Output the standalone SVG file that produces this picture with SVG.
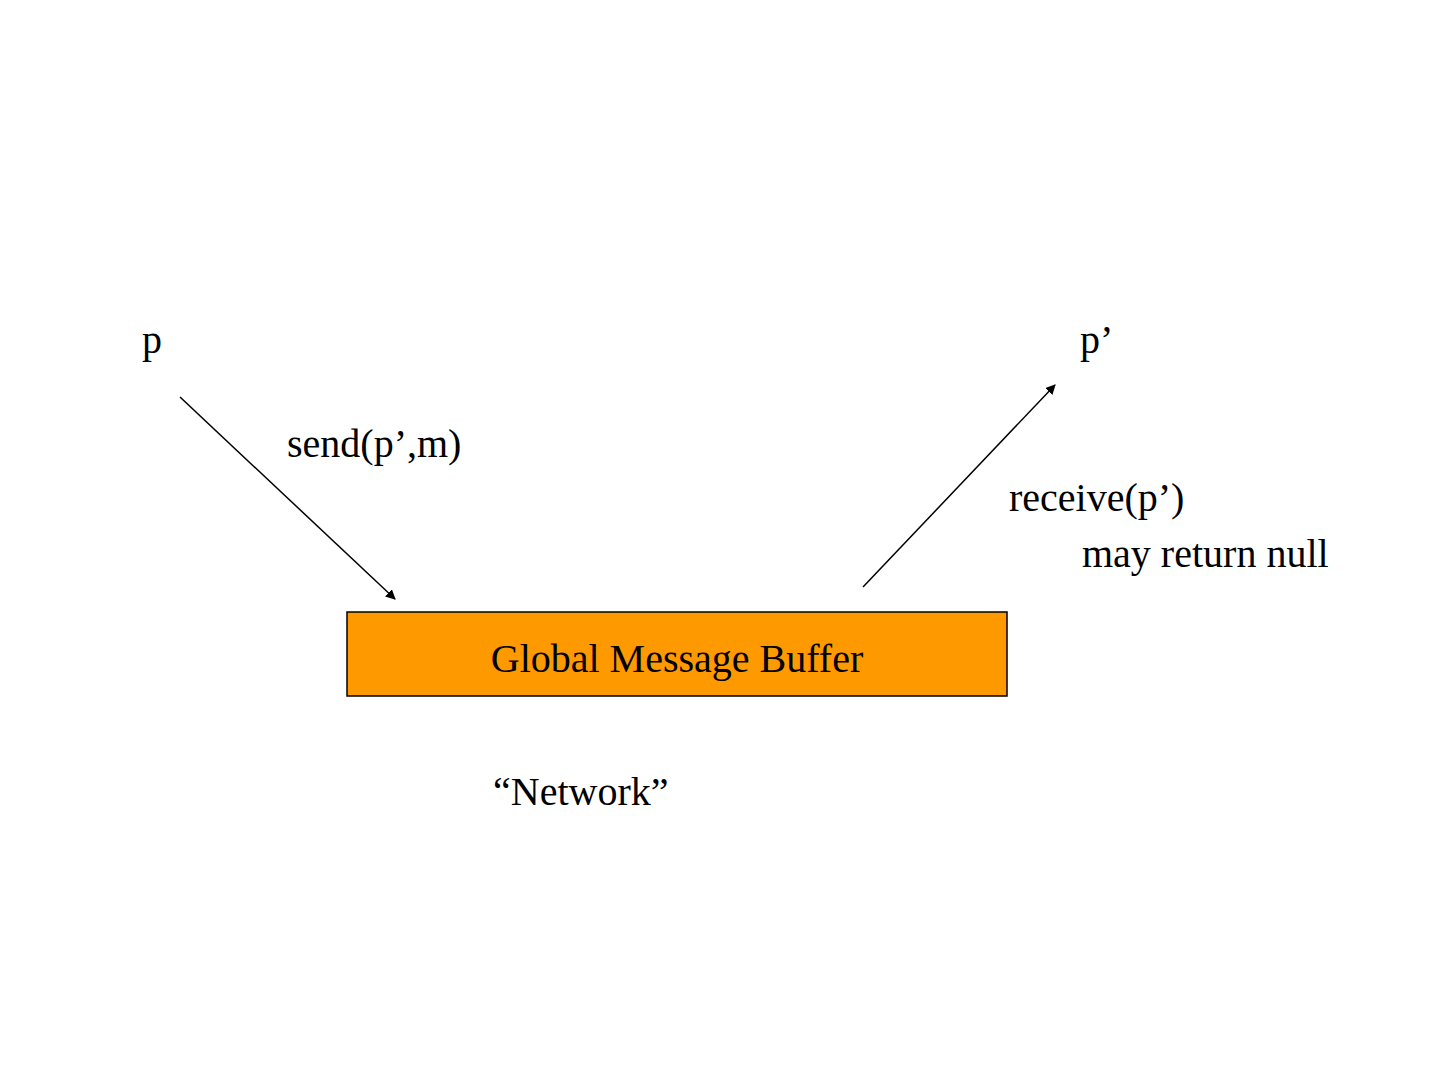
<svg xmlns="http://www.w3.org/2000/svg" width="1440" height="1080" viewBox="0 0 1440 1080">
<style>
text{font-family:"Liberation Serif",serif;font-size:40px;fill:#000}
.c{stroke:#000;stroke-width:1.5;fill:none;marker-end:url(#a)}
</style>
<defs><marker id="a" markerWidth="10" markerHeight="10" refX="9" refY="5" orient="auto" markerUnits="userSpaceOnUse"><path d="M0,0L10,5L0,10z" fill="#000"/></marker></defs>
<rect width="1440" height="1080" fill="#fff"/>
<g id="p"><text x="142" y="353">p</text></g>
<g id="pp"><text x="1080" y="353">p’</text></g>
<g id="buffer"><rect x="347" y="612" width="660" height="84" fill="#ff9900" stroke="#000" stroke-width="1.5"/><text x="677" y="672" text-anchor="middle">Global Message Buffer</text></g>
<g id="labels"><text x="287" y="457">send(p’,m)</text><text x="1009" y="511">receive(p’)</text><text x="1082" y="567">may return null</text><text x="493" y="805">“Network”</text></g>
<g id="connectors"><line class="c" x1="180" y1="397" x2="395" y2="599"/><line class="c" x1="863" y1="587" x2="1055" y2="385"/></g>
</svg>
